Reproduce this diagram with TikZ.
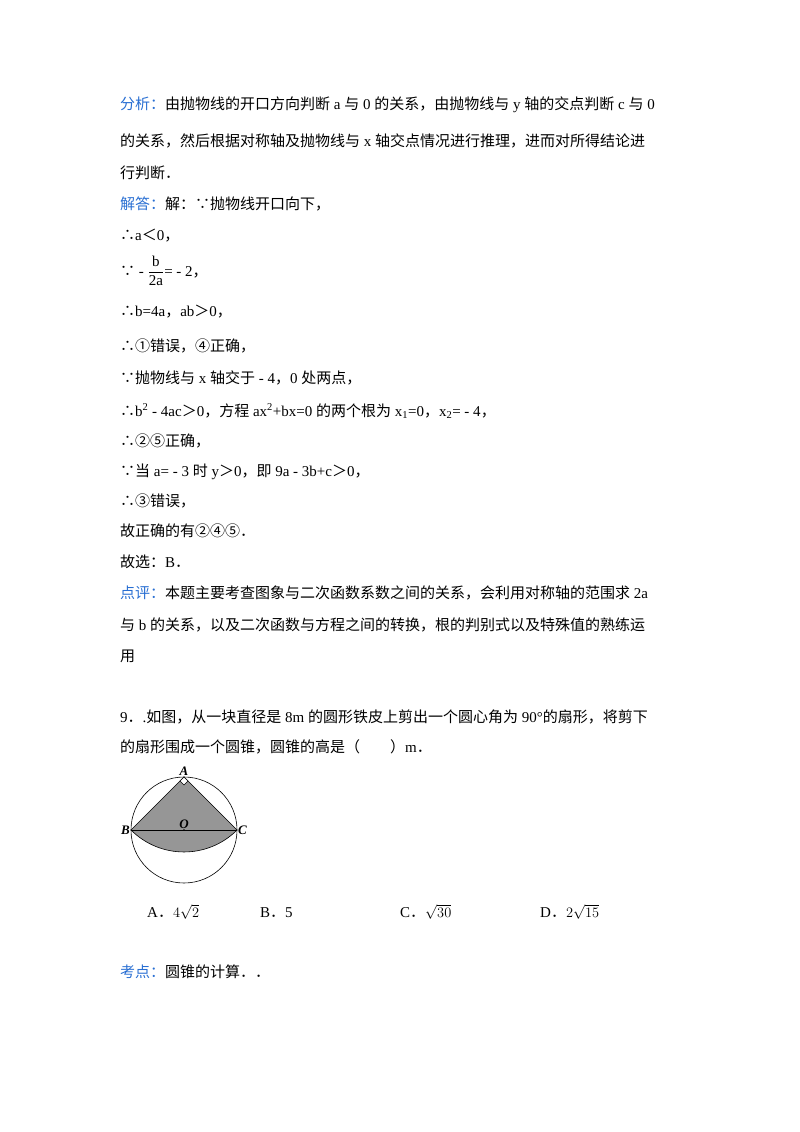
\documentclass[tikz,border=0pt]{standalone}
\usepackage{fontspec}
\setmainfont{Liberation Serif}
\newfontfamily\cjk{Noto Sans CJK SC}
\newcommand\zh[1]{{\cjk #1}}
\definecolor{lbl}{RGB}{40,110,210}
\definecolor{sect}{RGB}{150,150,150}
\begin{document}
\begin{tikzpicture}[x=1pt,y=-1pt,
  ln/.style={anchor=base west,inner sep=0pt,font=\fontsize{15}{18}\selectfont},
  pt/.style={inner sep=1pt,font=\fontsize{13}{15}\selectfont\bfseries\itshape}]
\useasboundingbox (0,0) rectangle (800,1132);
\node[ln] (l1) at (120,109) {\zh{\textcolor{lbl}{分析：}由抛物线的开口方向判断} a \zh{与} 0 \zh{的关系，由抛物线与} y \zh{轴的交点判断} c \zh{与} 0};
\node[ln] (l2) at (120,146) {\zh{的关系，然后根据对称轴及抛物线与} x \zh{轴交点情况进行推理，进而对所得结论进}};
\node[ln] (l3) at (120,178) {\zh{行判断．}};
\node[ln] (l4) at (120,209) {\zh{\textcolor{lbl}{解答：}解：∵抛物线开口向下，}};
\node[ln] (l5) at (120,240) {\zh{∴}a\zh{＜}0\zh{，}};
\node[ln] (l6) at (120,276) {\zh{∵} - $\displaystyle\frac{\mathrm{b}}{\mathrm{2a}}$= - 2\zh{，}};
\node[ln] (l7) at (120,316) {\zh{∴}b=4a\zh{，}ab\zh{＞}0\zh{，}};
\node[ln] (l8) at (120,351) {\zh{∴①错误，④正确，}};
\node[ln] (l9) at (120,383) {\zh{∵抛物线与} x \zh{轴交于} - 4\zh{，}0 \zh{处两点，}};
\node[ln] (l10) at (120,416) {\zh{∴}b\textsuperscript{2} - 4ac\zh{＞}0\zh{，方程} ax\textsuperscript{2}+bx=0 \zh{的两个根为} x\textsubscript{1}=0\zh{，}x\textsubscript{2}= - 4\zh{，}};
\node[ln] (l11) at (120,446) {\zh{∴②⑤正确，}};
\node[ln] (l12) at (120,476) {\zh{∵当} a= - 3 \zh{时} y\zh{＞}0\zh{，即} 9a - 3b+c\zh{＞}0\zh{，}};
\node[ln] (l13) at (120,506) {\zh{∴③错误，}};
\node[ln] (l14) at (120,536) {\zh{故正确的有②④⑤．}};
\node[ln] (l15) at (120,567) {\zh{故选：}B\zh{．}};
\node[ln] (l16) at (120,598) {\zh{\textcolor{lbl}{点评：}本题主要考查图象与二次函数系数之间的关系，会利用对称轴的范围求} 2a};
\node[ln] (l17) at (120,630) {\zh{与} b \zh{的关系，以及二次函数与方程之间的转换，根的判别式以及特殊值的熟练运}};
\node[ln] (l18) at (120,661) {\zh{用}};
\node[ln] (l19) at (120,722) {9\zh{．}.\zh{如图，从一块直径是} 8m \zh{的圆形铁皮上剪出一个圆心角为} 90°\zh{的扇形，将剪下}};
\node[ln] (l20) at (120,752) {\zh{的扇形围成一个圆锥，圆锥的高是（　　）}m\zh{．}};
% figure
\coordinate (O) at (184,830);
\coordinate (A) at (184,777);
\coordinate (B) at (131,830);
\coordinate (C) at (237,830);
\fill[sect] (A) -- (B) arc[start angle=135,end angle=45,radius=75] -- cycle;
\draw[line width=0.6pt] (A) -- (B) arc[start angle=135,end angle=45,radius=75] -- cycle;
\draw[line width=0.6pt] (B) -- (C);
\draw[line width=0.6pt] (O) circle[radius=53];
\draw[line width=0.5pt,fill=white] (A) -- ++(-4,4) -- ++(4,4) -- ++(4,-4) -- cycle;
\fill (O) circle[radius=0.9];
\node[pt,above] (nA) at (A) {A};
\node[pt,left] (nB) at (B) {B};
\node[pt,right] (nC) at (C) {C};
\node[pt,above] (nO) at (O) {O};
% options
\node[ln] (oA) at (147,917) {A\zh{．}$4\sqrt{2}$};
\node[ln] (oB) at (260,917) {B\zh{．}5};
\node[ln] (oC) at (400,917) {C\zh{．}$\sqrt{30}$};
\node[ln] (oD) at (540,917) {D\zh{．}$2\sqrt{15}$};
\node[ln] (k) at (120,977) {\zh{\textcolor{lbl}{考点：}圆锥的计算．．}};
\end{tikzpicture}
\end{document}
